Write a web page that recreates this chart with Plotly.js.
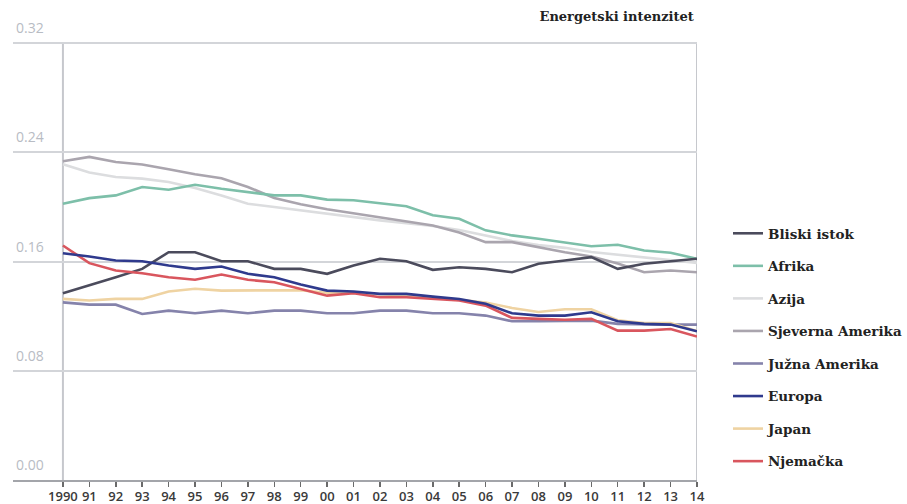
<!DOCTYPE html>
<html><head><meta charset="utf-8">
<script src="https://cdn.plot.ly/plotly-3.0.1.min.js"></script>
<style>html,body{margin:0;padding:0;background:#fff}#chart{width:907px;height:504px}</style>
</head><body><div id="chart"></div>
<script>
const years = [1990,1991,1992,1993,1994,1995,1996,1997,1998,1999,2000,2001,2002,2003,2004,2005,2006,2007,2008,2009,2010,2011,2012,2013,2014];
const yearLabels = ['1990','91','92','93','94','95','96','97','98','99','00','01','02','03','04','05','06','07','08','09','10','11','12','13','14'];
const yTicks = [0, 0.08, 0.16, 0.24, 0.32];
const yTickLabels = ['0.00','0.08','0.16','0.24','0.32'];
const titleText = 'Energetski intenzitet';

const seriesNames = ['Bliski istok','Afrika','Azija','Sjeverna Amerika','Južna Amerika','Europa','Japan','Njemačka'];
const seriesColors = ['#4b4b5c','#7dbfa9','#dcdddf','#aaa5ae','#8583ab','#2f3a8d','#efd3a2','#d9565e'];

const bliskiIstok = [0.1367,0.1424,0.1485,0.1546,0.1668,0.1668,0.1602,0.1602,0.1546,0.1546,0.1510,0.1571,0.1620,0.1602,0.1539,0.1558,0.1546,0.1521,0.1583,0.1607,0.1632,0.1546,0.1583,0.1602,0.1620];
const afrika = [0.2023,0.2064,0.2084,0.2145,0.2126,0.2162,0.2133,0.2109,0.2084,0.2084,0.2053,0.2048,0.2026,0.2004,0.1938,0.1913,0.1828,0.1791,0.1767,0.1742,0.1712,0.1723,0.1681,0.1664,0.1620];
const azija = [0.2312,0.2251,0.2219,0.2207,0.2182,0.2138,0.2084,0.2023,0.1999,0.1974,0.1950,0.1925,0.1901,0.1880,0.1860,0.1830,0.1790,0.1750,0.1720,0.1700,0.1670,0.1650,0.1630,0.1610,0.1590];
const sjevernaAmerika = [0.2334,0.2366,0.2329,0.2310,0.2275,0.2239,0.2209,0.2146,0.2065,0.2019,0.1982,0.1952,0.1925,0.1894,0.1864,0.1813,0.1742,0.1742,0.1705,0.1668,0.1637,0.1585,0.1521,0.1534,0.1521];
const juznaAmerika = [0.1301,0.1284,0.1284,0.1216,0.1240,0.1221,0.1240,0.1221,0.1240,0.1240,0.1221,0.1221,0.1240,0.1240,0.1221,0.1221,0.1204,0.1162,0.1162,0.1162,0.1167,0.1143,0.1138,0.1138,0.1138];
const europa = [0.1661,0.1637,0.1607,0.1602,0.1571,0.1546,0.1563,0.1510,0.1485,0.1431,0.1387,0.1380,0.1363,0.1363,0.1343,0.1326,0.1290,0.1221,0.1204,0.1204,0.1228,0.1162,0.1143,0.1138,0.1089];
const japan = [0.1326,0.1314,0.1326,0.1326,0.1380,0.1400,0.1387,0.1387,0.1392,0.1390,0.1370,0.1370,0.1360,0.1350,0.1340,0.1320,0.1300,0.1260,0.1230,0.1250,0.1250,0.1170,0.1150,0.1150,0.1090];
const njemacka = [0.1717,0.1588,0.1534,0.1514,0.1485,0.1466,0.1505,0.1466,0.1448,0.1400,0.1350,0.1367,0.1338,0.1338,0.1326,0.1314,0.1277,0.1187,0.1180,0.1173,0.1180,0.1094,0.1094,0.1106,0.1050];

const seriesValues = [bliskiIstok, afrika, azija, sjevernaAmerika, juznaAmerika, europa, japan, njemacka];
const drawOrder = [2,3,1,0,4,6,7,5];

const traces = drawOrder.map(i => ({
  type: 'scatter', mode: 'lines',
  x: years, y: seriesValues[i],
  name: seriesNames[i],
  legendgroup: 'g' + i,
  legendrank: i + 1,
  line: {color: seriesColors[i], width: 2.6},
  hoverinfo: 'skip'
}));

const layout = {
  width: 907, height: 504,
  margin: {l: 13, r: 210, t: 15, b: 24, autoexpand: false},
  paper_bgcolor: '#ffffff', plot_bgcolor: '#ffffff',
  showlegend: true,
  title: {
    text: titleText,
    font: {family: 'DejaVu Serif', size: 13, color: '#222222', weight: 'bold'},
    xref: 'container', yref: 'container',
    x: 0.765, xanchor: 'right', y: 0.968, yanchor: 'middle'
  },
  xaxis: {
    range: [1988.11, 2014],
    tickvals: years, ticktext: yearLabels,
    showgrid: false, zeroline: false,
    showline: true, linecolor: '#a3a5aa', linewidth: 2,
    ticks: 'outside', ticklen: 5, tickwidth: 1.5, tickcolor: '#6a6a6a',
    ticklabelstandoff: -2,
    tickfont: {family: 'Open Sans', size: 13, color: '#3a3a3a', weight: 600},
    fixedrange: true
  },
  yaxis: {
    range: [yTicks[0], 0.3405],
    tickvals: yTicks, ticktext: yTickLabels,
    ticklabelposition: 'inside top',
    ticklabelshift: -5,
    showgrid: true, gridcolor: '#d3d5d9', gridwidth: 2,
    zeroline: false, showline: false, ticks: '',
    tickfont: {family: 'Open Sans', size: 14, color: '#b8bcc4'},
    fixedrange: true
  },
  shapes: [years[0], years[years.length - 1]].map(xv => ({
    type: 'line', xref: 'x', yref: 'y',
    x0: xv, x1: xv, y0: yTicks[0], y1: yTicks[yTicks.length - 1],
    line: {color: '#c6c8cd', width: 2}, layer: 'below'
  })),
  legend: {
    x: 1.0453, xanchor: 'left', y: 0.5634, yanchor: 'top',
    font: {family: 'DejaVu Serif', size: 13.5, color: '#222222', weight: 'bold'},
    tracegroupgap: 12, traceorder: 'grouped',
    bgcolor: 'rgba(0,0,0,0)'
  }
};

Plotly.newPlot('chart', traces, layout, {displayModeBar: false, staticPlot: true});
</script>
</body></html>
